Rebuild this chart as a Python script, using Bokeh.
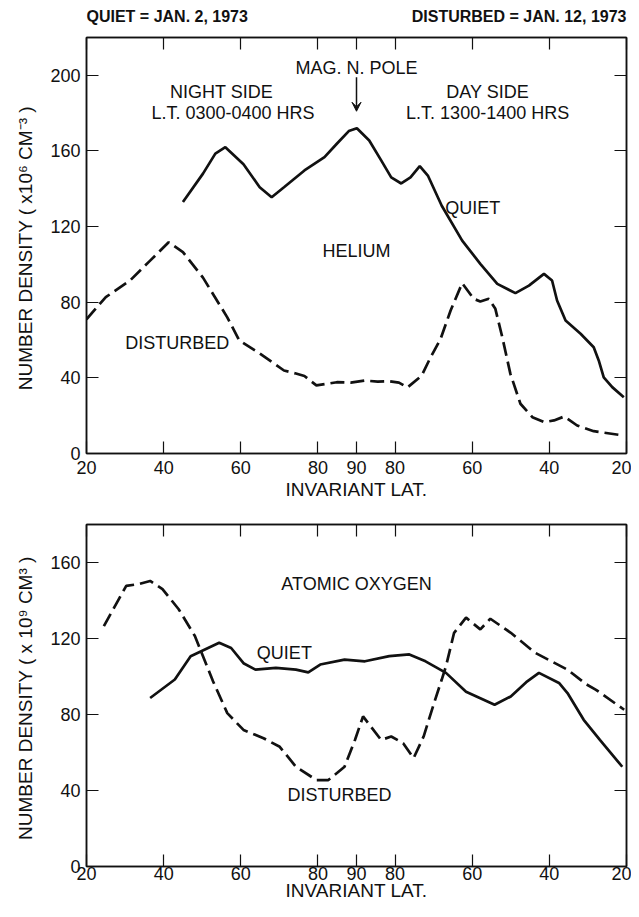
from bokeh.plotting import figure
from bokeh.models import (Range1d, FixedTicker, LinearAxis, Label, Arrow, VeeHead)
from bokeh.layouts import column
from bokeh.core.properties import value
from bokeh.embed import file_html
from bokeh.resources import INLINE

# ---- data ----
# x = position along the satellite pass (degrees of invariant latitude travelled
# from 20 deg night side, through the magnetic pole at 70, to 20 deg day side at 140)
track_ticks = [0, 20, 40, 60, 70, 80, 100, 120, 140]
track_tick_labels = ["20", "40", "60", "80", "90", "80", "60", "40", "20"]

he_y_ticks = [0, 40, 80, 120, 160, 200]
o_y_ticks = [0, 40, 80, 120, 160]

he_quiet_x = [25, 30.2, 33.4, 36, 40.7, 44.9, 48, 51.2, 56.5, 61.7, 64.9, 68, 70.1,
              73.3, 76.4, 79, 81.6, 84, 86.4, 88.5, 92.1, 97.4, 102.1, 106.5, 111.2,
              114.7, 118.6, 120.7, 122.0, 124.2, 128.1, 131.5, 132.8, 134.1, 136.3, 139.3]
he_quiet_y = [133, 148, 158.6, 162, 153, 140.8, 135.5, 140.8, 149.7, 156.7, 163.8, 170.5, 172,
              165.5, 155, 146, 142.8, 146, 152, 147, 131, 112.6, 100.3, 89.7, 84.8,
              88.8, 95, 91.5, 80.9, 70.3, 63.3, 56.2, 49.2, 40.3, 35.1, 29.8]

he_dist_x = [0, 5, 11.3, 16.5, 21.3, 25, 30.2, 36.5, 39.6, 44.9, 51.2, 54.3, 56.5, 59.6,
             64.9, 68.5, 72.2, 75.5, 78.5, 81, 83.2, 86.9, 89, 91.8, 94.4, 97.4, 100.4,
             102.1, 104.3, 106.0, 107.8, 109.9, 112.5, 115.6, 118.6, 121.2, 123.9, 127.2,
             131.5, 139.3]
he_dist_y = [71, 82.7, 91.5, 102, 111.7, 106.5, 93, 72, 59.8, 52.9, 43.9, 42.3, 41, 36,
             37.7, 37.5, 38.6, 38, 38.2, 37.5, 34.9, 41.2, 50, 60.6, 75.6, 90.1, 81.8,
             80.4, 81.8, 76.5, 61.5, 42.1, 26.3, 19.2, 16.6, 17.5, 19.6, 14.8,
             11.8, 9.5]

o_quiet_x = [16.5, 22.9, 27, 34.4, 37.5, 40.7, 43.8, 49.1, 54.3, 57.5, 60.6, 66.9, 72.2,
             78.5, 83.7, 87.9, 93.2, 98.4, 105.8, 110, 114, 117.3, 122.5, 124.7, 128.9,
             133.1, 138.9]
o_quiet_y = [88.7, 98.4, 110.7, 117.8, 115, 107, 103.6, 104.5, 103.6, 102.2, 106.3, 108.9, 108,
             110.7, 111.6, 108, 101.9, 92, 85.1, 89.5, 97, 101.9, 96.6, 91.3, 77.2,
             66.6, 52.5]

o_dist_x = [4.5, 10.3, 13.4, 16.5, 19.7, 23.9, 28.1, 32.8, 36.5, 40.7, 45.9, 50.1, 54.3,
            59.6, 62.7, 66.9, 69.6, 71.7, 73.7, 76.4, 79, 82.1, 84.8, 87.4, 90.1, 92.1,
            93.2, 95.3, 98.4, 100, 102.1, 104.7, 110, 116.3, 124.7, 129.5, 132.1, 139.4]
o_dist_y = [126.5, 147.7, 148.6, 150.3, 146, 135.4, 121.3, 97.5, 80.7, 71.9, 67.5, 63, 52.5,
            45.5, 45.5, 52.5, 66.6, 79, 73.7, 66.6, 68.4, 64.9, 57, 68.4, 86, 98.4,
            105.4, 123, 131, 128.3, 124.8, 130.4, 123, 112.5, 103.6, 96, 93, 82.5]

header_texts = ["QUIET = JAN. 2, 1973", "DISTURBED = JAN. 12, 1973"]
header_x = [0, 140]
header_align = ["left", "right"]

FONT = "Liberation Sans"
BLACK = "#111111"
BORDER_L = 86
BORDER_R = 5
WIDTH = 631


def style(p, yticks, ylabel, tick_standoff, title_standoff):
    p.xgrid.visible = False
    p.ygrid.visible = False
    p.outline_line_color = BLACK
    p.outline_line_width = 1.5
    p.background_fill_color = "white"
    p.border_fill_color = "white"

    xa = p.xaxis[0]
    xa.ticker = FixedTicker(ticks=track_ticks)
    xa.major_label_overrides = {t: l for t, l in zip(track_ticks, track_tick_labels)}
    xa.axis_label = "INVARIANT LAT."
    ya = p.yaxis[0]
    ya.ticker = FixedTicker(ticks=yticks)
    ya.axis_label = ylabel
    for ax in (xa, ya):
        ax.axis_line_color = BLACK
        ax.axis_line_width = 1.5
        ax.major_tick_in = 12
        ax.major_tick_out = 0
        ax.minor_tick_line_color = None
        ax.major_tick_line_color = BLACK
        ax.major_tick_line_width = 1.2
        ax.major_label_text_font = FONT
        ax.major_label_text_font_size = "18px"
        ax.major_label_text_color = BLACK
        ax.axis_label_text_font = FONT
        ax.axis_label_text_font_size = "19px"
        ax.axis_label_text_font_style = "normal"
        ax.axis_label_text_color = BLACK
    xa.major_label_standoff = tick_standoff
    xa.axis_label_standoff = title_standoff
    ya.major_label_standoff = 6
    ya.axis_label_standoff = 11

    top = LinearAxis(ticker=FixedTicker(ticks=track_ticks))
    right = LinearAxis(ticker=FixedTicker(ticks=yticks))
    for ax in (top, right):
        ax.major_tick_in = 12
        ax.major_tick_out = 0
        ax.minor_tick_line_color = None
        ax.major_tick_line_color = BLACK
        ax.major_tick_line_width = 1.2
        ax.axis_line_color = BLACK
        ax.axis_line_width = 1.5
        ax.major_label_text_font_size = "1px"
        ax.major_label_text_color = None
        ax.major_label_standoff = 0
    p.add_layout(top, "above")
    p.add_layout(right, "right")


def label(p, x, y, text, align="center", size="18px"):
    p.add_layout(Label(x=x, y=y, text=text, text_align=align, text_baseline="middle",
                       text_font=FONT, text_font_size=size, text_color=BLACK))


# ---- header strip ----
p0 = figure(width=WIDTH, height=30, x_range=Range1d(0, 140), y_range=Range1d(0, 30),
            output_backend="svg", toolbar_location=None, x_axis_type=None, y_axis_type=None,
            min_border_left=BORDER_L, min_border_right=BORDER_R, min_border_top=0,
            min_border_bottom=0)
p0.outline_line_color = None
p0.xgrid.visible = False
p0.ygrid.visible = False
p0.text(x=header_x, y=[14, 14], text=header_texts, text_align=header_align,
        text_baseline="middle", text_font=value(FONT), text_font_size="16px",
        text_font_style="bold", text_color=BLACK)

# ---- top panel: helium ----
p1 = figure(width=WIDTH, height=478, x_range=Range1d(0, 140), y_range=Range1d(0, 220),
            output_backend="svg", toolbar_location=None,
            min_border_left=BORDER_L, min_border_right=BORDER_R, min_border_top=7,
            min_border_bottom=55)
style(p1, he_y_ticks, "NUMBER DENSITY ( x10\u2076  CM\u207b\u00b3 )", 7, 2)
p1.line(he_quiet_x, he_quiet_y, line_color=BLACK, line_width=2.7)
p1.line(he_dist_x, he_dist_y, line_color=BLACK, line_width=2.7, line_dash="14 6")

label(p1, 70, 204, "MAG. N. POLE")
label(p1, 35, 191, "NIGHT SIDE")
label(p1, 38, 180, "L.T. 0300-0400 HRS")
label(p1, 104, 191, "DAY SIDE")
label(p1, 104, 180, "L.T. 1300-1400 HRS")
label(p1, 93, 130, "QUIET", align="left")
label(p1, 70, 107, "HELIUM")
label(p1, 23.5, 58.7, "DISTURBED")
p1.add_layout(Arrow(end=VeeHead(size=9, fill_color=BLACK, line_color=BLACK),
                    x_start=70, y_start=199, x_end=70, y_end=181,
                    line_color=BLACK, line_width=1.5))

# ---- bottom panel: atomic oxygen ----
p2 = figure(width=WIDTH, height=404, x_range=Range1d(0, 140), y_range=Range1d(0, 180),
            output_backend="svg", toolbar_location=None,
            min_border_left=BORDER_L, min_border_right=BORDER_R, min_border_top=16,
            min_border_bottom=46)
style(p2, o_y_ticks, "NUMBER DENSITY ( x 10\u2079  CM\u00b3 )", 0, -3)
p2.line(o_quiet_x, o_quiet_y, line_color=BLACK, line_width=2.7)
p2.line(o_dist_x, o_dist_y, line_color=BLACK, line_width=2.7, line_dash="14 6")
label(p2, 70, 148.6, "ATOMIC OXYGEN")
label(p2, 51.3, 112.6, "QUIET")
label(p2, 65.6, 37.5, "DISTURBED")

layout = column(p0, p1, p2)
open("out.html", "w").write(file_html(layout, INLINE))
